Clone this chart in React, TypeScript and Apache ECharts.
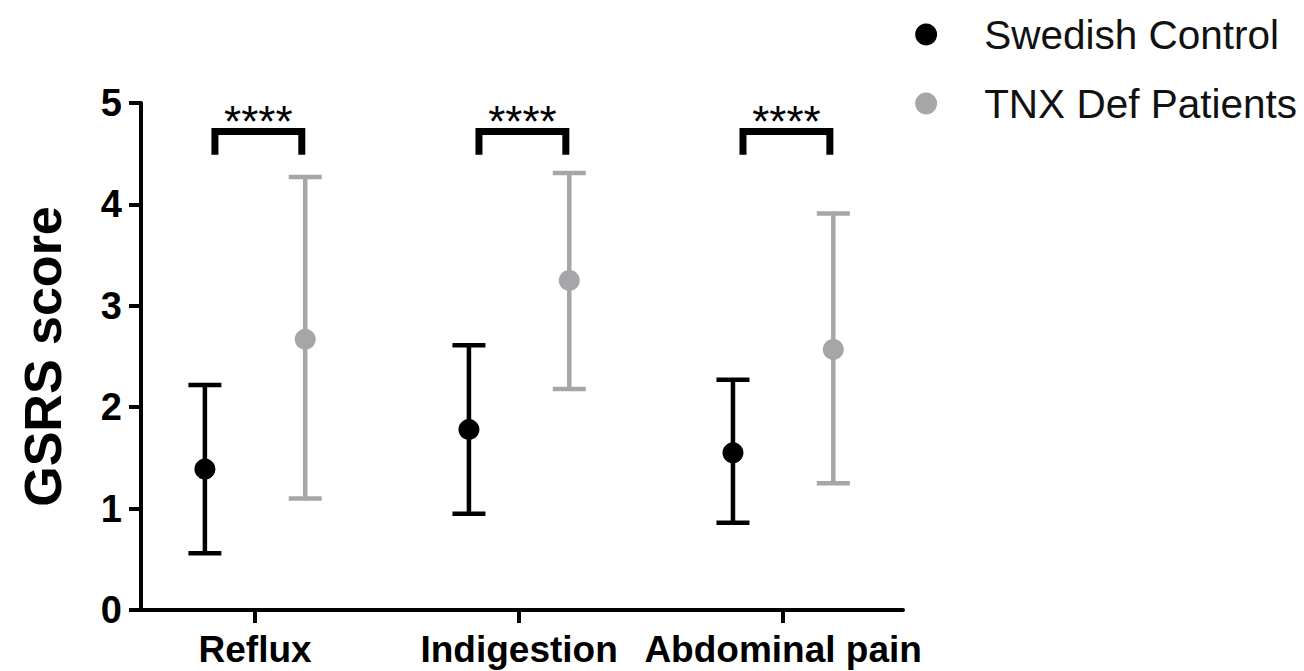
import React, { useEffect, useRef } from "react";
import * as echarts from "echarts";

const categories = ["Reflux", "Indigestion", "Abdominal pain"];
const seriesNames = ["Swedish Control", "TNX Def Patients"];
const controlMean = [1.39, 1.78, 1.55];
const controlLow = [0.56, 0.95, 0.86];
const controlHigh = [2.22, 2.61, 2.27];
const tnxMean = [2.67, 3.25, 2.57];
const tnxLow = [1.1, 2.18, 1.25];
const tnxHigh = [4.27, 4.31, 3.91];
const significance = ["****", "****", "****"];
const yTicks = [0, 1, 2, 3, 4, 5];

const BLACK = "#000000";
const GREY = "#a6a6a8";
const OFFSET = 0.19;
const FONT = "'Liberation Sans', Arial, Helvetica, sans-serif";

export default function App() {
  const ref = useRef<HTMLDivElement>(null);
  useEffect(() => {
    document.body.style.margin = "0";
    if (!ref.current) return;
    const chart = echarts.init(ref.current, undefined, { renderer: "svg" });

    const errData = (mean: number[], low: number[], high: number[], off: number) =>
      mean.map((_, i) => [i + off, low[i], high[i]]);

    const errRender = (color: string) => (params: any, api: any) => {
      const x = api.value(0);
      const lo = api.coord([x, api.value(1)]);
      const hi = api.coord([x, api.value(2)]);
      const cap = 16.5;
      const style = { stroke: color, lineWidth: 4.5 };
      return {
        type: "group",
        children: [
          { type: "line", shape: { x1: lo[0], y1: lo[1], x2: hi[0], y2: hi[1] }, style },
          { type: "line", shape: { x1: lo[0] - cap, y1: lo[1], x2: lo[0] + cap, y2: lo[1] }, style },
          { type: "line", shape: { x1: hi[0] - cap, y1: hi[1], x2: hi[0] + cap, y2: hi[1] }, style },
        ],
      };
    };

    const bracketLeft = -0.152;
    const bracketRight = 0.177;
    const bracketTop = 4.72;
    const bracketLeg = 4.49;

    const option: any = {
      animation: false,
      backgroundColor: "#ffffff",
      textStyle: { fontFamily: FONT },
      grid: { left: 141, right: 401, top: 103, bottom: 61, containLabel: false },
      legend: {
        data: seriesNames.map((n) => ({ name: n, icon: "circle" })),
        orient: "vertical",
        right: 7,
        top: 14,
        padding: 0,
        itemWidth: 106,
        itemHeight: 22,
        itemGap: 28,
        symbolKeepAspect: true,
        textStyle: { fontFamily: FONT, fontSize: 40.5, color: "#111", lineHeight: 41 },
      },
      xAxis: {
        type: "value",
        min: -0.432,
        max: 2.454,
        splitLine: { show: false },
        axisLine: { show: true, onZero: false, lineStyle: { color: BLACK, width: 4 } },
        axisTick: {
          show: true,
          customValues: [0, 1, 2],
          length: 13,
          lineStyle: { color: BLACK, width: 4 },
        },
        axisLabel: {
          customValues: [0, 1, 2],
          formatter: (v: number) => categories[Math.round(v)] ?? "",
          fontFamily: FONT,
          fontWeight: "bold",
          fontSize: 37,
          color: BLACK,
          margin: 21,
        },
      },
      yAxis: {
        type: "value",
        min: 0,
        max: 5,
        interval: 1,
        name: "GSRS score",
        nameLocation: "middle",
        nameRotate: 90,
        nameGap: 72,
        nameTextStyle: { fontFamily: FONT, fontWeight: "bold", fontSize: 52, color: BLACK },
        splitLine: { show: false },
        axisLine: { show: true, onZero: false, lineStyle: { color: BLACK, width: 4 } },
        axisTick: { show: true, length: 12, lineStyle: { color: BLACK, width: 4 } },
        axisLabel: {
          formatter: (v: number) => (yTicks.includes(v) ? String(v) : ""),
          fontFamily: FONT,
          fontWeight: "bold",
          fontSize: 38,
          color: BLACK,
          margin: 19,
        },
      },
      series: [
        {
          name: seriesNames[0] + " error",
          type: "custom",
          renderItem: errRender(BLACK),
          data: errData(controlMean, controlLow, controlHigh, -OFFSET),
          z: 2,
          silent: true,
        },
        {
          name: seriesNames[1] + " error",
          type: "custom",
          renderItem: errRender(GREY),
          data: errData(tnxMean, tnxLow, tnxHigh, OFFSET),
          z: 2,
          silent: true,
        },
        {
          name: seriesNames[0],
          type: "scatter",
          symbol: "circle",
          symbolSize: 21,
          itemStyle: { color: BLACK, opacity: 1 },
          data: controlMean.map((v, i) => [i - OFFSET, v]),
          z: 5,
        },
        {
          name: seriesNames[1],
          type: "scatter",
          symbol: "circle",
          symbolSize: 21,
          itemStyle: { color: GREY, opacity: 1 },
          data: tnxMean.map((v, i) => [i + OFFSET, v]),
          z: 5,
        },
        {
          name: "significance",
          type: "custom",
          silent: true,
          z: 3,
          data: significance.map((s, i) => [i, s]),
          renderItem: (params: any, api: any) => {
            const i = api.value(0);
            const p1 = api.coord([i + bracketLeft, bracketLeg]);
            const p2 = api.coord([i + bracketLeft, bracketTop]);
            const p3 = api.coord([i + bracketRight, bracketTop]);
            const p4 = api.coord([i + bracketRight, bracketLeg]);
            const mid = (p2[0] + p3[0]) / 2;
            return {
              type: "group",
              children: [
                {
                  type: "polyline",
                  shape: { points: [p1, p2, p3, p4] },
                  style: { stroke: BLACK, lineWidth: 7, fill: "none", lineJoin: "miter", lineCap: "butt" },
                },
                {
                  type: "text",
                  x: mid,
                  y: p2[1] + 12,
                  style: {
                    text: significance[i],
                    fontFamily: FONT,
                    fontSize: 44,
                    fill: BLACK,
                    align: "center",
                    verticalAlign: "bottom",
                  },
                },
              ],
            };
          },
        },
      ],
    };

    chart.setOption(option);
    return () => chart.dispose();
  }, []);

  return <div ref={ref} style={{ width: 1304, height: 671 }} />;
}
